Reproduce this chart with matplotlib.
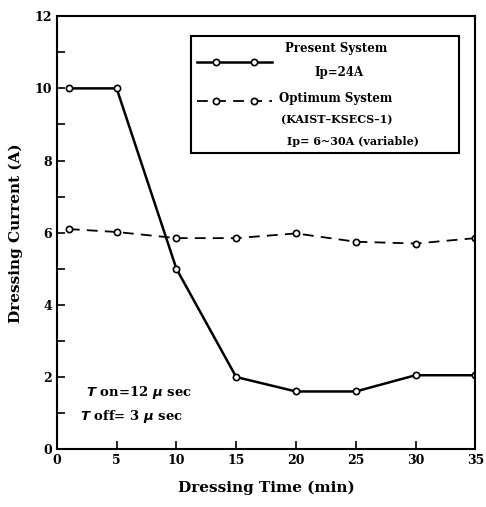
import matplotlib.pyplot as plt
from matplotlib.lines import Line2D
from matplotlib.patches import Rectangle

time_min = [1, 5, 10, 15, 20, 25, 30, 35]
present_current = [10.0, 10.0, 5.0, 2.0, 1.6, 1.6, 2.05, 2.05]
optimum_current = [6.1, 6.02, 5.85, 5.85, 5.98, 5.75, 5.7, 5.85]

x_ticks = [0, 5, 10, 15, 20, 25, 30, 35]
y_ticks = [0, 2, 4, 6, 8, 10, 12]

plt.rcParams['font.family'] = ['DejaVu Serif']
plt.rcParams['font.weight'] = 'bold'

fig = plt.figure(figsize=(4.86, 5.07), dpi=100)
ax = fig.add_axes([0.117, 0.114, 0.861, 0.854])

mk = dict(marker='o', markersize=4.5, markerfacecolor='white',
          markeredgecolor='black', markeredgewidth=1.2, color='black')
ax.plot(time_min, present_current, linestyle='-', linewidth=1.8, **mk)
ax.plot(time_min, optimum_current, linestyle=(0, (6, 4)), linewidth=1.3, **mk)

ax.set_xlim(0, 35)
ax.set_ylim(0, 12)
ax.set_xticks(x_ticks)
ax.set_yticks(y_ticks)
ax.set_yticks(range(1, 12, 2), minor=True)
ax.tick_params(direction='in', length=6, width=1.2, labelsize=9)
ax.tick_params(which='minor', direction='in', length=6, width=1.2)
for s in ax.spines.values():
    s.set_linewidth(1.5)

ax.set_xlabel('Dressing Time (min)', fontsize=11, fontweight='bold', labelpad=10)
ax.set_ylabel('Dressing Current (A)', fontsize=11, fontweight='bold', labelpad=8)

# legend box
tr = ax.transAxes
ax.add_patch(Rectangle((0.32, 0.685), 0.64, 0.27, transform=tr, fill=False,
                       edgecolor='black', linewidth=1.5))
ax.add_line(Line2D([0.335, 0.38, 0.47, 0.515], [0.895] * 4, transform=tr,
                   linestyle='-', linewidth=1.8, markevery=[1, 2], **mk))
ax.add_line(Line2D([0.335, 0.38, 0.47, 0.515], [0.805] * 4, transform=tr,
                   linestyle=(0, (6, 4)), linewidth=1.3, markevery=[1, 2], **mk))
ax.text(0.545, 0.925, 'Present System', transform=tr, fontsize=8.5, va='center')
ax.text(0.615, 0.87, 'Ip=24A', transform=tr, fontsize=8.5, va='center')
ax.text(0.53, 0.81, 'Optimum System', transform=tr, fontsize=8.5, va='center')
ax.text(0.535, 0.76, '(KAIST\u2013KSECS\u20131)', transform=tr, fontsize=8, va='center')
ax.text(0.55, 0.71, 'Ip= 6~30A (variable)', transform=tr, fontsize=8, va='center')

ax.text(0.07, 0.13, r'$\mathit{T}$ on=12 $\mu$ sec', transform=tr, fontsize=9.5, va='center')
ax.text(0.055, 0.075, r'$\mathit{T}$ off= 3 $\mu$ sec', transform=tr, fontsize=9.5, va='center')

fig.savefig('out.png', dpi=100)
